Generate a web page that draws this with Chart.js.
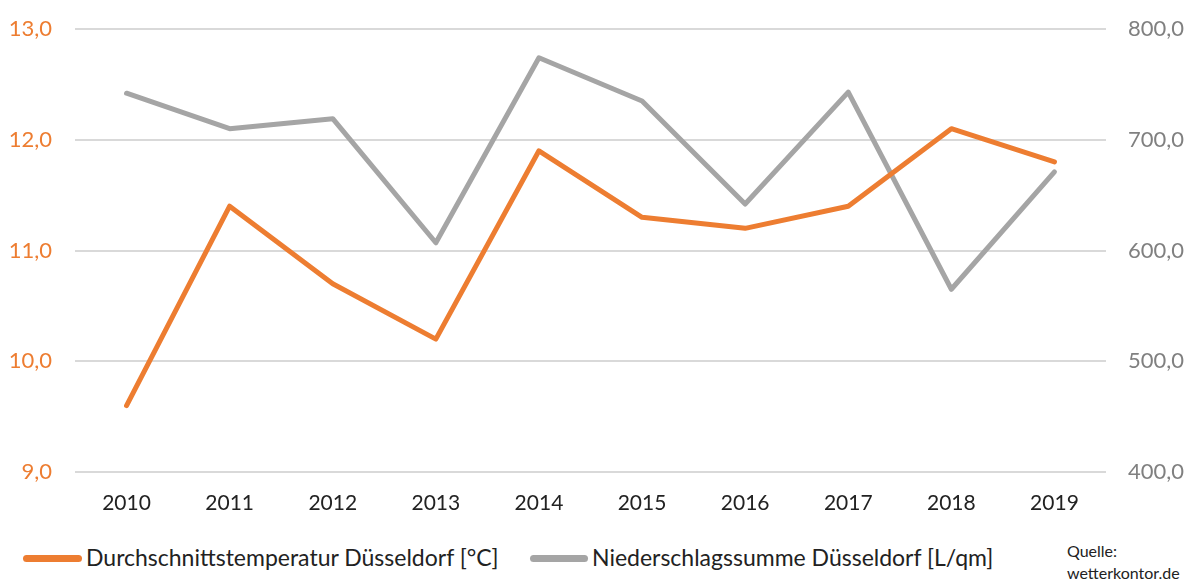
<!DOCTYPE html>
<html>
<head>
<meta charset="utf-8">
<script src="https://cdn.jsdelivr.net/npm/chart.js@4"></script>
<style>
    body { margin: 0; background: #fff; font-family: Lato, "Open Sans", sans-serif; }
    #wrap { position: relative; width: 1197px; height: 581px; }
    #box { position: absolute; left: 0; top: 0; width: 1197px; height: 525px; }
    .leg { position: absolute; top: 543px; font-size: 23px; line-height: 28px; color: #222; white-space: nowrap; }
    .leg span.bar { display: inline-block; width: 59px; height: 7px; border-radius: 4px; vertical-align: middle; margin-right: 4px; position: relative; top: -2px; }
    #quelle { position: absolute; left: 1067px; top: 540px; font-size: 16px; line-height: 22px; color: #222; }
</style>
</head>
<body>
<div id="wrap">
    <div id="box"><canvas id="chart"></canvas></div>
    <div class="leg" style="left:23px"><span class="bar" style="background:#ED7D31"></span>Durchschnittstemperatur Düsseldorf [°C]</div>
    <div class="leg" style="left:530px"><span class="bar" style="background:#A5A5A5;width:58px"></span>Niederschlagssumme Düsseldorf [L/qm]</div>
    <div id="quelle">Quelle:<br>wetterkontor.de</div>
</div>
<script>
// Jahre
const jahre = ['2010', '2011', '2012', '2013', '2014', '2015', '2016', '2017', '2018', '2019'];
// Durchschnittstemperatur [°C]
const temperatur = [9.6, 11.4, 10.7, 10.2, 11.9, 11.3, 11.2, 11.4, 12.1, 11.8];
// Niederschlagssumme [L/qm]
const niederschlag = [742, 710, 719, 607, 774, 735, 642, 743, 565, 671];

const tempAchse = { min: 9, max: 13, step: 1 };
const regenAchse = { min: 400, max: 800, step: 100 };

function komma(v) {
    return Number(v).toFixed(1).replace('.', ',');
}

// feste Achsenbreite, ohne Extra-Abstand oben/unten
function festeBreite(w) {
    return function (axis) {
        axis.width = w;
        axis.paddingTop = 0;
        axis.paddingBottom = 0;
    };
}

new Chart(document.getElementById('chart'), {
    type: 'line',
    data: {
        labels: jahre,
        datasets: [
            {
                label: 'Durchschnittstemperatur Düsseldorf [°C]',
                data: temperatur,
                borderColor: '#ED7D31',
                borderWidth: 5,
                borderCapStyle: 'round',
                borderJoinStyle: 'round',
                pointRadius: 0,
                tension: 0,
                yAxisID: 'y'
            },
            {
                label: 'Niederschlagssumme Düsseldorf [L/qm]',
                data: niederschlag,
                borderColor: '#A5A5A5',
                borderWidth: 5,
                borderCapStyle: 'round',
                borderJoinStyle: 'round',
                pointRadius: 0,
                tension: 0,
                yAxisID: 'y1'
            }
        ]
    },
    options: {
        responsive: true,
        maintainAspectRatio: false,
        animation: false,
        layout: { padding: { top: 29, left: 0, right: 0, bottom: 0 } },
        plugins: {
            legend: { display: false },
            tooltip: { enabled: false }
        },
        scales: {
            x: {
                offset: true,
                grid: { display: false, drawTicks: false },
                border: { display: false },
                ticks: { color: '#222', font: { family: 'Lato', size: 21 }, padding: 19, maxRotation: 0 },
                afterFit: function (axis) { axis.height = 53; axis.paddingLeft = 0; axis.paddingRight = 0; }
            },
            y: {
                position: 'left',
                min: tempAchse.min,
                max: tempAchse.max,
                grid: { color: '#D9D9D9', lineWidth: 2, drawTicks: false },
                border: { display: false },
                ticks: {
                    stepSize: tempAchse.step,
                    color: '#ED7D31',
                    font: { family: 'Lato', size: 22 },
                    padding: 23,
                    callback: komma
                },
                afterFit: festeBreite(75)
            },
            y1: {
                position: 'right',
                min: regenAchse.min,
                max: regenAchse.max,
                grid: { display: false, drawTicks: false },
                border: { display: false },
                ticks: {
                    stepSize: regenAchse.step,
                    color: '#808080',
                    font: { family: 'Lato', size: 22 },
                    padding: 22,
                    callback: komma
                },
                afterFit: festeBreite(91)
            }
        }
    }
});
</script>
</body>
</html>
